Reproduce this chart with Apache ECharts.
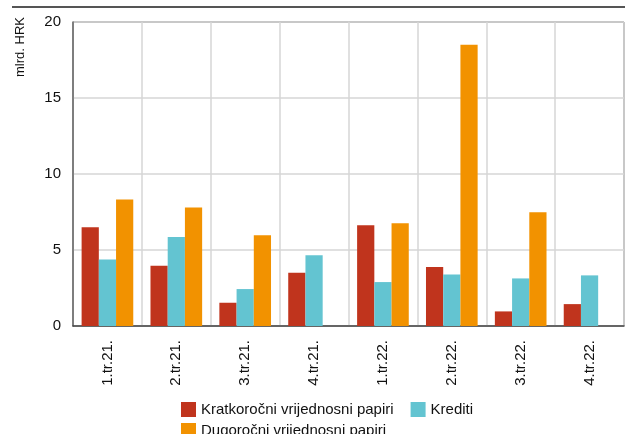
<!DOCTYPE html>
<html>
<head>
<meta charset="utf-8">
<script src="https://cdn.jsdelivr.net/npm/echarts@6/dist/echarts.min.js"></script>
<style>
  html, body { margin: 0; padding: 0; background: #fff; }
  #main { width: 630px; height: 434px; }
</style>
</head>
<body>
<div id="main"></div>
<script>
  // kvartali
  var categories = ['1.tr.21.', '2.tr.21.', '3.tr.21.', '4.tr.21.', '1.tr.22.', '2.tr.22.', '3.tr.22.', '4.tr.22.'];
  // mlrd. HRK
  var kratkorocni = [6.5, 3.97, 1.53, 3.51, 6.63, 3.88, 0.96, 1.44];
  var krediti = [4.37, 5.86, 2.43, 4.65, 2.89, 3.38, 3.13, 3.33];
  var dugorocni = [8.32, 7.8, 5.97, null, 6.76, 18.5, 7.49, null];
  var yTicks = [0, 5, 10, 15, 20];

  var font = "'Liberation Sans Narrow', 'Arial Narrow', 'Liberation Sans', sans-serif";

  var chart = echarts.init(document.getElementById('main'));
  chart.setOption({
    animation: false,
    textStyle: { fontFamily: font },
    grid: {
      left: 73, right: 6, top: 22, bottom: 108,
      show: true, borderColor: '#444', borderWidth: 1
    },
    xAxis: {
      type: 'category',
      data: categories,
      axisLine: { lineStyle: { color: '#444', width: 1.5 } },
      axisTick: { show: false },
      axisLabel: { rotate: 90, margin: 14, fontSize: 15, color: '#111', fontFamily: font },
      splitLine: { show: true, interval: 0, lineStyle: { color: '#d6d6d6', width: 1.5 } }
    },
    yAxis: {
      type: 'value',
      min: yTicks[0], max: yTicks[yTicks.length - 1], interval: 5,
      axisLine: { show: true, lineStyle: { color: '#666', width: 1.5 } },
      axisTick: { show: false },
      axisLabel: { margin: 12, fontSize: 15, color: '#111', fontFamily: font },
      splitLine: { lineStyle: { color: '#d6d6d6', width: 1.5 } }
    },
    legend: [
      {
        data: ['Kratkoročni vrijednosni papiri', 'Krediti'],
        left: 176, top: 397,
        itemWidth: 15, itemHeight: 15, itemGap: 17,
        icon: 'rect',
        textStyle: { fontSize: 15, color: '#111', fontFamily: font }
      },
      {
        data: ['Dugoročni vrijednosni papiri'],
        left: 176, top: 418,
        itemWidth: 15, itemHeight: 15,
        icon: 'rect',
        textStyle: { fontSize: 15, color: '#111', fontFamily: font }
      }
    ],
    graphic: [
      { type: 'line', shape: { x1: 12, y1: 7, x2: 625, y2: 7 }, style: { stroke: '#555', lineWidth: 2 } },
      {
        type: 'text', x: 20, y: 47, rotation: Math.PI / 2,
        style: { text: 'mlrd. HRK', fontSize: 13, fontFamily: font, fill: '#111', align: 'center', verticalAlign: 'middle' }
      }
    ],
    series: [
      { name: 'Kratkoročni vrijednosni papiri', type: 'bar', data: kratkorocni, barGap: '0%', barCategoryGap: '25%', itemStyle: { color: '#C0341D' } },
      { name: 'Krediti', type: 'bar', data: krediti, itemStyle: { color: '#63C4D1' } },
      { name: 'Dugoročni vrijednosni papiri', type: 'bar', data: dugorocni, itemStyle: { color: '#F29200' } }
    ]
  });
</script>
</body>
</html>
